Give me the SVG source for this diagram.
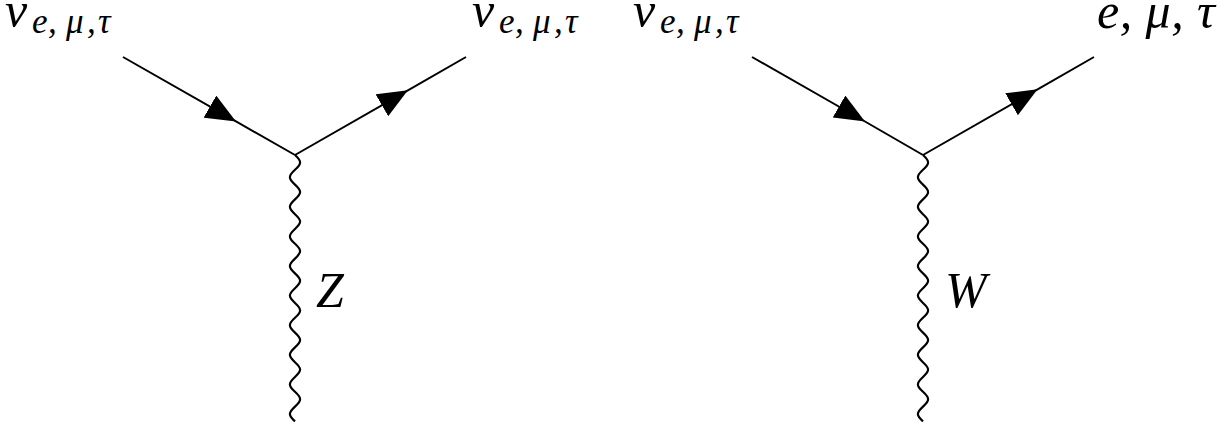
<svg xmlns="http://www.w3.org/2000/svg" width="1231" height="430" viewBox="0 0 1231 430">
<style>
.ln{fill:none;stroke:#000;stroke-width:2}
.wv{fill:none;stroke:#000;stroke-width:2.2}
.arr{marker-mid:url(#ah)}
.lbl{font-family:"Liberation Serif",serif;font-style:italic;font-size:50px;fill:#000}
.sub{font-size:35px}
</style>
<defs>
<marker id="ah" markerUnits="userSpaceOnUse" orient="auto" refX="30" refY="12.7" markerWidth="30" markerHeight="25.4">
<path d="M30,12.7 L0,0 L0,25.4 Z" fill="#000"/>
</marker>
<path id="wave" class="wv" d="M0,0 c6.8,6.28 6.8,8.52 0,14.8 c-6.8,6.28 -6.8,8.52 0,14.8 c6.8,6.28 6.8,8.52 0,14.8 c-6.8,6.28 -6.8,8.52 0,14.8 c6.8,6.28 6.8,8.52 0,14.8 c-6.8,6.28 -6.8,8.52 0,14.8 c6.8,6.28 6.8,8.52 0,14.8 c-6.8,6.28 -6.8,8.52 0,14.8 c6.8,6.28 6.8,8.52 0,14.8 c-6.8,6.28 -6.8,8.52 0,14.8 c6.8,6.28 6.8,8.52 0,14.8 c-6.8,6.28 -6.8,8.52 0,14.8 c6.8,6.28 6.8,8.52 0,14.8 c-6.8,6.28 -6.8,8.52 0,14.8 c6.8,6.28 6.8,8.52 0,14.8 c-6.8,6.28 -6.8,8.52 0,14.8 c6.8,6.28 6.8,8.52 0,14.8 c-6.8,6.28 -6.8,8.52 0,14.8"/>
</defs>
<g id="connectors">
<polyline class="ln arr" points="123,57 236,121.4 295,155"/>
<polyline class="ln arr" points="295,155 407.9,90.3 466,57"/>
<use href="#wave" x="295" y="155"/>
<polyline class="ln arr" points="752,57 865,121.5 923,155"/>
<polyline class="ln arr" points="923,155 1037.6,89.3 1094,57"/>
<use href="#wave" x="923" y="155"/>
</g>
<g id="label-nu-in-1"><text class="lbl" x="5" y="27">ν<tspan class="sub" x="32 48 66 87 98" y="33">e,μ,τ</tspan></text></g>
<g id="label-nu-out-1"><text class="lbl" x="472" y="27">ν<tspan class="sub" x="499 515 533 554 565" y="33">e,μ,τ</tspan></text></g>
<g id="label-Z"><text class="lbl" x="316" y="307">Z</text></g>
<g id="label-nu-in-2"><text class="lbl" x="633" y="27">ν<tspan class="sub" x="660 676 694 715 726" y="33">e,μ,τ</tspan></text></g>
<g id="label-lepton"><text class="lbl" x="1097" y="28" textLength="118" lengthAdjust="spacing">e, μ, τ</text></g>
<g id="label-W"><text class="lbl" x="945" y="307">W</text></g>
</svg>
